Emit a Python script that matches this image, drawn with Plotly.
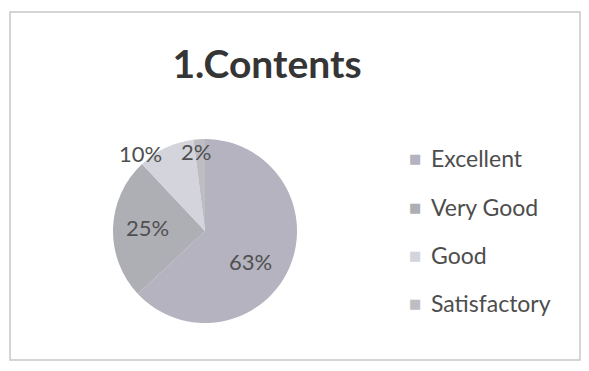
import plotly.graph_objects as go

categories = ["Excellent", "Very Good", "Good", "Satisfactory"]
values = [63, 25, 10, 2]
colors = ["#b4b3bf", "#aeaeb5", "#d4d4dc", "#bdbdc3"]

# page is rendered with an 8px body margin; figure sized to fit the window
OFF = 8
FW, FH = 589 - 2 * OFF, 371 - 2 * OFF


def px(x):
    return (x - OFF) / FW


def py(y):
    return 1 - (y - OFF) / FH


total = sum(values)
pct = [f"{v / total * 100:.0f}%" for v in values]

fig = go.Figure(go.Pie(
    labels=categories,
    values=values,
    sort=False,
    direction="clockwise",
    rotation=0,
    marker=dict(colors=colors, line=dict(width=0)),
    textinfo="none",
    domain=dict(x=[px(113), px(297)], y=[py(323), py(139)]),
    showlegend=False,
    hoverinfo="label+percent",
))

annotations = []
# data labels (percent of each slice)
label_xy = [(250, 261), (147, 228), (140, 153), (196, 151)]
for txt, (xx, yy) in zip(pct, label_xy):
    annotations.append(dict(
        x=px(xx), y=py(yy), xref="paper", yref="paper",
        xanchor="center", yanchor="middle", showarrow=False,
        text=txt,
        font=dict(family="Lato, sans-serif", size=22, color="#505050"),
    ))

# legend
legend_y = [158, 207, 255, 303]
for cat, col, yy in zip(categories, colors, legend_y):
    annotations.append(dict(
        x=px(415), y=py(yy), xref="paper", yref="paper",
        xanchor="center", yanchor="middle", showarrow=False,
        text="■",
        font=dict(family="DejaVu Sans, sans-serif", size=13, color=col),
    ))
    annotations.append(dict(
        x=px(429), y=py(yy), xref="paper", yref="paper",
        xanchor="left", yanchor="middle", showarrow=False,
        text=cat,
        font=dict(family="Lato, sans-serif", size=23, color="#4d4d4d"),
    ))

fig.update_layout(
    width=FW, height=FH,
    margin=dict(l=0, r=0, t=0, b=0),
    paper_bgcolor="white",
    plot_bgcolor="white",
    title=dict(
        text="<b>1.Contents</b>",
        x=px(267), xanchor="center",
        y=py(64), yanchor="middle",
        font=dict(family="Lato, sans-serif", size=39, color="#353535"),
    ),
    annotations=annotations,
    shapes=[dict(
        type="rect", xref="paper", yref="paper",
        x0=px(10), x1=px(580), y0=py(360), y1=py(12),
        line=dict(color="#c8c8c8", width=1.5),
    )],
)

fig.write_html("out.html")
